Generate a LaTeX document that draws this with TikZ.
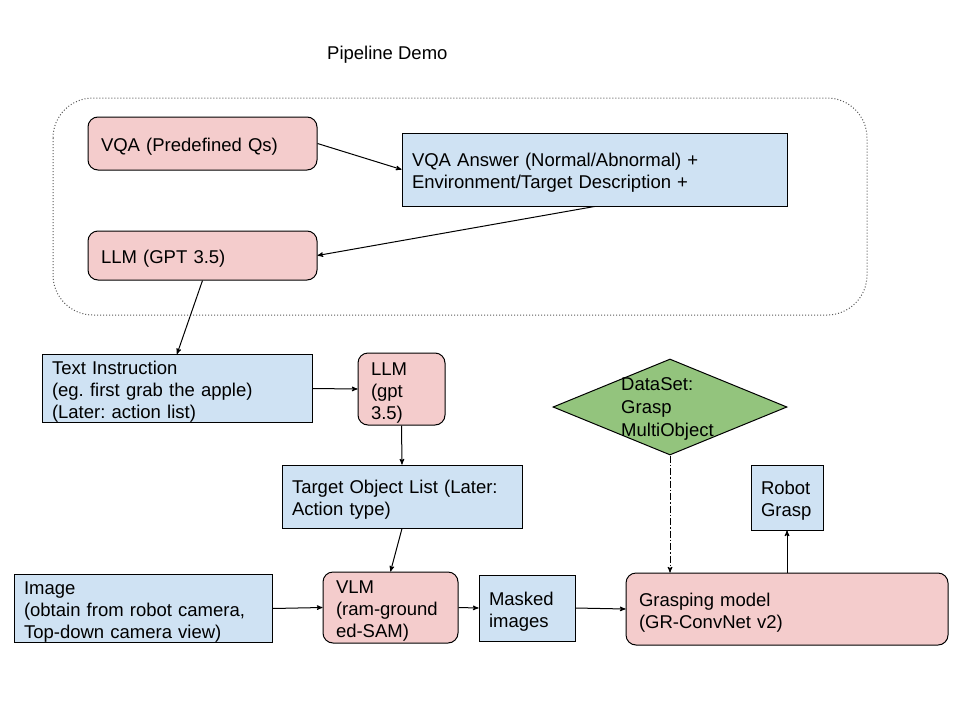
\documentclass[tikz,border=0pt]{standalone}
\usepackage{fontspec}
\setmainfont{Liberation Sans}
\usepackage{xcolor}
\usepackage{tikz}
\usetikzlibrary{shapes,arrows,positioning}
\tikzset{>=stealth'}

\definecolor{pinkfill}{HTML}{F4CCCC}
\definecolor{bluefill}{HTML}{CFE2F3}
\definecolor{greenfill}{HTML}{93C47D}

\begin{document}
\frenchspacing
\begin{tikzpicture}[x=1pt, y=-1pt,
                    font=\fontsize{18.5}{22}\selectfont,
                    pinkbox/.style={draw, line width=1pt, fill=pinkfill, rounded corners=10pt,
                                    inner xsep=13pt, inner ysep=0pt, align=left,
                                    execute at begin node={\rule{0pt}{20pt}}},
                    bluebox/.style={draw, line width=1pt, fill=bluefill,
                                    inner xsep=10pt, inner ysep=0pt, align=left,
                                    execute at begin node={\rule{0pt}{20pt}}},
                    dataset/.style={draw, line width=1pt, fill=greenfill, diamond, inner sep=0pt},
                    myarrow/.style={->, line width=1pt},
                    mydashdot/.style={->, line width=1pt, dash pattern=on 7pt off 2pt on 1.5pt off 2pt},
                   ]

\useasboundingbox (0,0) rectangle (960,720);

\node[anchor=west, inner sep=0pt] (title) at (327,55) {Pipeline Demo};

% grouped VQA part
\draw[gray!70!black, dotted, line width=1pt, rounded corners=40pt] (53,98) rectangle (867,315);

\node[pinkbox, minimum width=229pt, minimum height=53pt, text width=203pt] (vqa) at (202.5,143.5) {VQA (Predefined Qs)};
\node[bluebox, minimum width=385pt, minimum height=73pt, text width=365pt] (answer) at (594.5,169.5) {VQA Answer (Normal/Abnormal) +\\Environment/Target Description +};
\node[pinkbox, minimum width=229pt, minimum height=49pt, text width=203pt] (llm) at (202.5,255.5) {LLM (GPT 3.5)};

% middle row
\node[bluebox, minimum width=270pt, minimum height=67pt, text width=250pt] (instr) at (177,388.5) {Text Instruction\\(eg. first grab the apple)\\(Later: action list)};
\node[pinkbox, minimum width=87pt, minimum height=72pt, text width=61pt] (llmb) at (401.5,389) {LLM\\(gpt\\3.5)};
\node[bluebox, minimum width=240pt, minimum height=63pt, text width=220pt] (target) at (402,496.5) {Target Object List (Later:\\Action type)};

\node[dataset, minimum width=234pt, minimum height=96pt] (data) at (670,407) {};
\node[anchor=west, align=left, inner sep=0pt, font=\fontsize{18.5}{23}\selectfont] (datatext) at (621,409) {DataSet:\\Grasp\\MultiObject};
\node[bluebox, minimum width=72pt, minimum height=65pt, text width=52pt] (robot) at (787,497.5) {Robot\\Grasp};

% bottom row
\node[bluebox, minimum width=258pt, minimum height=65pt, text width=238pt] (image) at (143,608.5) {Image\\(obtain from robot camera,\\Top-down camera view)};
\node[pinkbox, minimum width=135pt, minimum height=71pt, text width=109pt] (vlm) at (390.5,607.5) {VLM\\(ram-ground\\ed-SAM)};
\node[bluebox, minimum width=94pt, minimum height=66pt, text width=76pt] (masked) at (527,608) {Masked\\images};
\node[pinkbox, minimum width=322pt, minimum height=72pt, text width=296pt] (grasp) at (787,609) {Grasping model\\(GR-ConvNet v2)};

\draw[myarrow] (vqa.east) -- (answer.west);
\draw[myarrow] (answer.south) -- (llm.east);
\draw[myarrow] (llm.south) -- (instr.north);
\draw[myarrow] (instr.east) -- (llmb.west);
\draw[myarrow] (llmb.south) -- (target.north);
\draw[myarrow] (target.south) -- (vlm.north);
\draw[myarrow] (image.east) -- (vlm.west);
\draw[myarrow] (vlm.east) -- (masked.west);
\draw[myarrow] (masked.east) -- (grasp.west);
\draw[mydashdot] (data.south) -- (data.south |- grasp.north);
\draw[myarrow] (grasp.north) -- (robot.south);

\end{tikzpicture}
\end{document}
